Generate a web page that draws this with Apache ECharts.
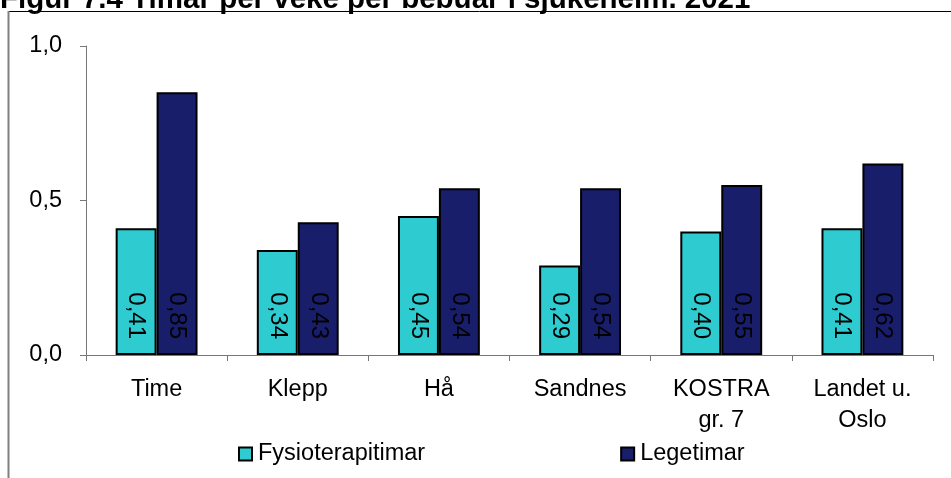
<!DOCTYPE html>
<html>
<head>
<meta charset="utf-8">
<script src="https://cdn.jsdelivr.net/npm/echarts@6/dist/echarts.min.js"></script>
<style>
  html, body { margin: 0; padding: 0; background: #fff; }
  #chart { width: 951px; height: 478px; }
</style>
</head>
<body>
<div id="chart"></div>
<script>
// Timar per veke per bebuar i sjukeheim, 2021
const categories = ['Time', 'Klepp', 'Hå', 'Sandnes', 'KOSTRA\ngr. 7', 'Landet u.\nOslo'];
const fysioterapitimar = [0.41, 0.34, 0.45, 0.29, 0.40, 0.41];
const legetimar = [0.85, 0.43, 0.54, 0.54, 0.55, 0.62];
const yTicks = { min: 0, max: 1, interval: 0.5 };

const FONT = '"Liberation Sans", Arial, sans-serif';
const comma = (v, d) => v.toFixed(d).replace('.', ',');

const chart = echarts.init(document.getElementById('chart'), null, { renderer: 'canvas' });

const barLabel = {
  show: true,
  position: 'insideBottom',
  rotate: -90,
  align: 'right',
  verticalAlign: 'middle',
  distance: 16,
  fontFamily: FONT,
  fontSize: 24,
  color: '#000',
  formatter: p => comma(p.value, 2)
};

chart.setOption({
  animation: false,
  backgroundColor: '#fff',
  title: {
    text: 'Figur 7.4 Timar per veke per bebuar i sjukeheim. 2021',
    left: 0,
    top: -15,
    padding: 0,
    textStyle: { fontFamily: FONT, fontSize: 29.5, fontWeight: 'bold', color: '#000' }
  },
  graphic: [
    { type: 'line', shape: { x1: 8, y1: 11.5, x2: 951, y2: 11.5 }, style: { stroke: '#000', lineWidth: 1 } },
    { type: 'line', shape: { x1: 8.5, y1: 11, x2: 8.5, y2: 478 }, style: { stroke: '#808080', lineWidth: 2 } }
  ],
  grid: { left: 86, right: 18, top: 46, bottom: 123, containLabel: false },
  legend: {
    left: 238,
    top: 442,
    padding: 0,
    itemWidth: 13,
    itemHeight: 13,
    itemGap: 195,
    icon: 'rect',
    textStyle: { fontFamily: FONT, fontSize: 23.5, color: '#000', padding: [0, 0, 0, 1] },
    itemStyle: { borderColor: '#000', borderWidth: 2 },
    data: ['Fysioterapitimar', 'Legetimar']
  },
  xAxis: {
    type: 'category',
    data: categories,
    axisLine: { lineStyle: { color: '#777', width: 1 } },
    axisTick: { show: true, length: 6, lineStyle: { color: '#777' } },
    axisLabel: { fontFamily: FONT, fontSize: 23.5, color: '#000', margin: 19, lineHeight: 31, interval: 0 }
  },
  yAxis: {
    type: 'value',
    min: yTicks.min,
    max: yTicks.max,
    interval: yTicks.interval,
    splitLine: { show: false },
    axisLine: { show: true, lineStyle: { color: '#777', width: 1 } },
    axisTick: { show: true, length: 6, inside: false, lineStyle: { color: '#777' } },
    axisLabel: { fontFamily: FONT, fontSize: 23.5, color: '#000', margin: 24, formatter: v => comma(v, 1) }
  },
  series: [
    {
      name: 'Fysioterapitimar',
      type: 'bar',
      data: fysioterapitimar,
      barGap: '0%',
      barCategoryGap: '42%',
      itemStyle: { color: '#2ECCD0', borderColor: '#000', borderWidth: 2 },
      label: barLabel
    },
    {
      name: 'Legetimar',
      type: 'bar',
      data: legetimar,
      barGap: '0%',
      barCategoryGap: '42%',
      itemStyle: { color: '#191E6B', borderColor: '#000', borderWidth: 2 },
      label: barLabel
    }
  ]
});
</script>
</body>
</html>
